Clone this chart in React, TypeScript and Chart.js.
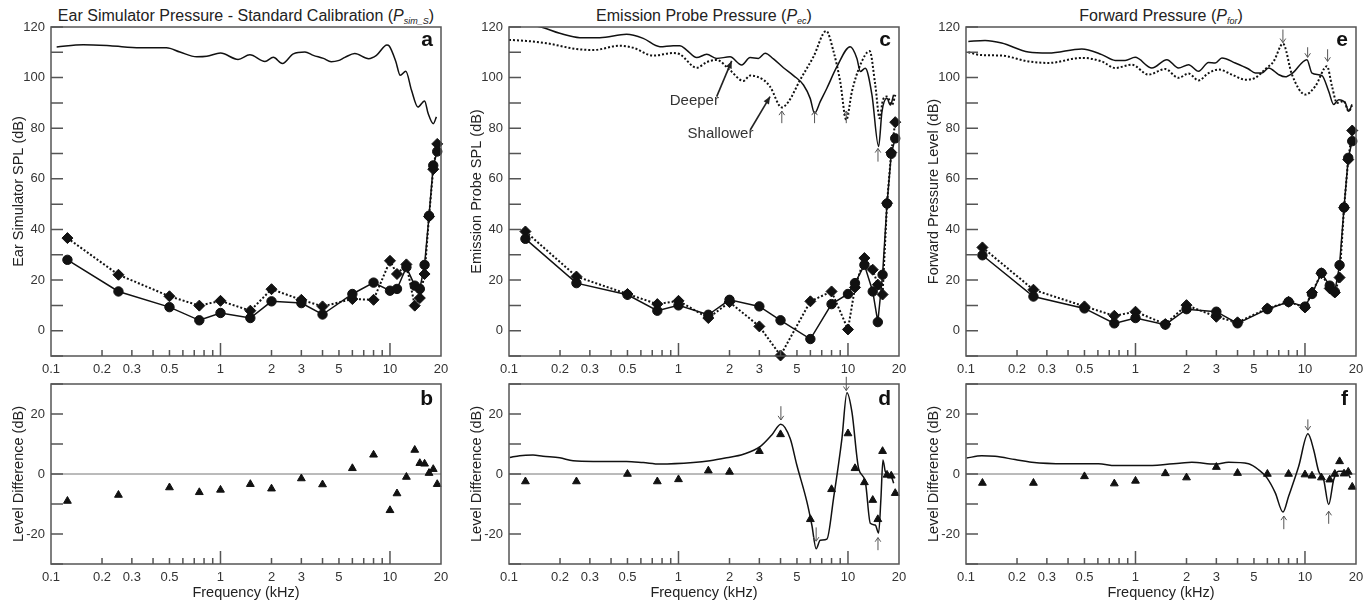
import React, { useEffect, useRef } from "react";
import { Chart, registerables } from "chart.js";

Chart.register(...registerables);

const FONT = "'Liberation Sans', Arial, Helvetica, sans-serif";
Chart.defaults.font.family = FONT;
Chart.defaults.color = "#333";

// ---------- shared axis data ----------
const X_TICK_LABELS = [0.1, 0.2, 0.3, 0.5, 1, 2, 3, 5, 10, 20];
const X_MINOR = [0.2, 0.3, 0.4, 0.5, 0.6, 0.7, 0.8, 0.9, 2, 3, 4, 5, 6, 7, 8, 9];
const X_MAJOR = [1, 10];

// test frequencies (kHz) for marker series
const FREQS = [0.125, 0.25, 0.5, 0.75, 1, 1.5, 2, 3, 4, 6, 8, 10, 11, 12.5, 14, 15, 16, 17, 18, 19];

// ---------- panel a / b ----------
const A_CIRCLE = [28.0, 15.5, 9.3, 4.1, 7.0, 5.0, 11.6, 10.9, 6.4, 14.5, 19.0, 15.8, 16.5, 25.1, 17.8, 16.5, 26.0, 45.4, 65.3, 70.8];
const A_DIAMOND = [36.6, 22.1, 13.6, 9.9, 11.8, 7.9, 16.4, 12.2, 9.6, 12.5, 12.2, 27.6, 22.4, 26.2, 9.9, 12.9, 22.4, 45.1, 63.8, 73.8];
const A_CURVE_FREQ = [0.108, 0.155, 0.223, 0.335, 0.48, 0.576, 0.724, 0.83, 1.0, 1.27, 1.49, 1.83, 2.05, 2.32, 2.69, 3.15, 3.53, 4.05, 4.5, 4.95, 5.42, 6.2, 7.48, 8.32, 9.6, 9.9, 10.8, 11.5, 12.4, 13.4, 14.6, 16.0, 16.8, 18.0, 18.8];
const A_CURVE_DB = [112.1, 113.0, 112.6, 111.8, 111.8, 110.1, 108.2, 108.4, 109.7, 107.2, 109.0, 106.4, 108.0, 105.6, 109.4, 110.1, 108.8, 107.6, 106.3, 106.7, 108.0, 109.5, 107.5, 108.8, 112.9, 112.5, 106.6, 100.9, 102.5, 95.0, 88.4, 90.8, 85.8, 81.8, 84.5];
const B_DIFF = [-9.0, -7.0, -4.5, -6.1, -5.3, -3.4, -4.9, -1.5, -3.5, 1.9, 6.4, -12.1, -6.5, -1.0, 8.0, 3.6, 3.4, 0.3, 1.6, -3.4];

// ---------- panel c / d ----------
const C_CIRCLE = [36.3, 18.8, 14.2, 7.9, 10.0, 6.3, 12.2, 9.6, 4.1, -3.3, 10.5, 14.5, 18.8, 26.0, 15.5, 3.4, 22.1, 50.2, 69.9, 76.0];
const C_DIAMOND = [39.2, 21.4, 14.5, 10.5, 11.8, 5.0, 11.3, 1.7, -9.8, 11.6, 15.5, 0.5, 17.1, 28.7, 24.1, 18.2, 14.3, 50.4, 70.4, 82.4];
const C_DEEP_FREQ = [0.1, 0.1518, 0.1993, 0.2617, 0.3435, 0.4938, 0.6194, 0.777, 0.9318, 1.02, 1.117, 1.28, 1.467, 1.68, 2.015, 2.361, 2.645, 2.962, 3.243, 3.634, 4.163, 4.771, 5.465, 5.984, 6.35, 6.858, 7.508, 8.603, 10.31, 11.29, 11.82, 12.65, 13.85, 15.16, 15.87, 16.99, 17.78, 18.6];
const C_DEEP_DB = [121.5, 120.1, 117.5, 115.8, 115.8, 117.1, 115.5, 112.2, 112.6, 112.6, 110.9, 107.9, 109.2, 107.6, 108.2, 105.0, 107.9, 107.6, 109.6, 107.4, 103.9, 100.8, 97.1, 91.8, 85.9, 90.5, 95.8, 104.3, 112.2, 107.6, 102.4, 103.7, 93.2, 72.8, 86.6, 91.8, 89.2, 93.2];
const C_SHALLOW_FREQ = [0.1, 0.1266, 0.1662, 0.25, 0.3137, 0.4509, 0.5406, 0.7099, 0.9318, 1.02, 1.28, 1.467, 1.68, 2.015, 2.415, 2.645, 3.171, 3.472, 4.07, 4.457, 5.223, 6.262, 7.439, 8.22, 9.0, 9.77, 10.55, 11.82, 13.42, 14.49, 15.38, 16.08, 16.99, 18.18, 19.03];
const C_SHALLOW_DB = [114.9, 114.5, 113.6, 111.3, 110.9, 112.6, 111.8, 108.7, 109.7, 109.2, 103.9, 106.1, 107.0, 102.9, 98.7, 100.8, 99.1, 96.4, 88.2, 90.5, 99.1, 108.3, 118.4, 110.3, 98.4, 83.3, 94.5, 105.0, 110.5, 97.1, 83.9, 91.2, 92.5, 89.2, 93.2];
const D_DIFF = [-2.5, -2.5, 0.0, -2.5, -1.8, 1.1, 0.7, 7.6, 13.2, -15.1, -5.1, 13.5, 1.9, -2.8, -8.7, -15.1, 7.6, -0.3, -0.6, -6.4];
const D_CURVE_FREQ = [0.101, 0.1156, 0.1386, 0.1588, 0.1993, 0.2389, 0.3137, 0.4938, 0.6194, 0.777, 1.223, 1.535, 1.925, 2.415, 3.03, 3.55, 4.015, 4.56, 4.99, 5.72, 6.12, 6.49, 6.86, 7.51, 8.22, 9.21, 9.86, 10.55, 11.55, 12.65, 13.54, 14.49, 15.16, 15.65, 16.08, 16.6, 17.38, 18.18, 18.6];
const D_CURVE_DB = [5.5, 6.1, 6.3, 5.9, 5.4, 4.4, 4.2, 4.2, 3.8, 3.3, 3.8, 4.4, 5.4, 6.6, 9.1, 13.0, 16.6, 11.8, 3.0, -9.2, -17.0, -24.9, -22.1, -21.7, -8.1, 11.8, 27.1, 20.7, 1.9, -2.5, -16.4, -17.0, -19.7, -8.1, 4.7, 0.8, -0.3, -1.4, -3.1];

// ---------- panel e / f ----------
const E_CIRCLE = [29.8, 13.5, 8.8, 2.9, 5.0, 2.4, 8.5, 7.5, 2.9, 8.5, 11.4, 9.5, 14.5, 22.8, 17.8, 15.4, 25.9, 48.7, 68.3, 74.9];
const E_DIAMOND = [32.9, 16.2, 9.6, 5.9, 7.5, 2.6, 10.1, 5.5, 3.3, 8.8, 11.4, 9.2, 15.1, 22.7, 16.7, 15.1, 21.0, 48.6, 67.6, 79.1];
const E_DEEP_FREQ = [0.1032, 0.1295, 0.1624, 0.2334, 0.3064, 0.4821, 0.6326, 0.7586, 0.869, 0.9954, 1.249, 1.531, 1.794, 2.056, 2.355, 2.698, 2.954, 3.235, 3.878, 4.648, 5.09, 5.573, 6.1, 6.99, 7.654, 8.38, 10.27, 11.0, 12.6, 13.8, 14.77, 15.81, 17.31, 18.11, 18.95];
const E_DEEP_DB = [114.3, 114.7, 113.7, 110.1, 109.7, 111.3, 109.1, 106.8, 106.8, 108.0, 103.8, 107.1, 103.8, 105.1, 102.5, 106.0, 105.8, 107.8, 105.8, 103.4, 101.8, 101.8, 103.8, 101.2, 100.3, 101.6, 107.1, 101.8, 100.8, 94.6, 89.4, 91.3, 90.0, 86.7, 89.4];
const E_SHALLOW_FREQ = [0.1032, 0.1237, 0.1624, 0.2334, 0.3064, 0.4821, 0.6326, 0.7586, 0.9512, 1.193, 1.497, 1.794, 2.056, 2.355, 2.698, 3.093, 3.706, 4.442, 5.09, 5.832, 6.531, 7.417, 8.38, 10.05, 11.51, 13.49, 14.43, 15.45, 16.92, 18.11, 18.95];
const E_SHALLOW_DB = [110.0, 108.9, 108.7, 106.4, 105.8, 107.8, 106.4, 103.8, 105.1, 101.2, 103.4, 99.9, 101.6, 98.9, 101.8, 103.2, 101.2, 99.2, 99.9, 103.4, 106.4, 113.4, 101.2, 93.3, 96.6, 104.5, 96.6, 90.0, 90.7, 86.7, 89.0];
const F_DIFF = [-3.0, -3.0, -0.8, -3.2, -2.3, 0.2, -1.2, 2.3, 0.3, 0.0, 0.0, -0.2, -0.6, -1.2, -1.9, 0.0, 4.2, 0.1, 0.7, -4.3];
const F_CURVE_FREQ = [0.1009, 0.1237, 0.1483, 0.1947, 0.2442, 0.3843, 0.6046, 0.7586, 1.193, 1.878, 2.151, 2.954, 3.542, 4.648, 5.326, 5.965, 6.68, 7.417, 8.008, 9.175, 10.41, 11.25, 12.04, 12.89, 13.8, 14.77, 15.81, 17.31, 18.52];
const F_CURVE_DB = [5.3, 6.1, 5.9, 4.8, 3.9, 3.4, 3.4, 2.8, 2.8, 3.7, 3.9, 3.3, 3.9, 3.4, 1.4, -1.3, -6.3, -12.7, -7.4, 2.5, 13.4, 8.1, 0.9, -1.9, -10.2, -1.9, 0.9, 0.9, -1.3];

// ---------- annotations (data coordinates) ----------
type Arrow = { x1: number; y1: number; x2: number; y2: number; bold?: boolean };
type Note = { text: string; x: number; y: number };

const C_ARROWS: Arrow[] = [
  { x1: 1.68, y1: 92.5, x2: 2.06, y2: 106.6, bold: true },
  { x1: 2.65, y1: 79.3, x2: 3.47, y2: 92.5, bold: true },
  { x1: 4.07, y1: 82.0, x2: 4.07, y2: 86.8 },
  { x1: 6.35, y1: 82.0, x2: 6.35, y2: 86.8 },
  { x1: 9.77, y1: 82.0, x2: 9.77, y2: 86.8 },
  { x1: 15.03, y1: 66.8, x2: 15.03, y2: 72.0 },
];
const C_NOTES: Note[] = [
  { text: "Deeper", x: 1.24, y: 90.8 },
  { text: "Shallower", x: 1.77, y: 77.6 },
];
const D_ARROWS: Arrow[] = [
  { x1: 4.02, y1: 22.6, x2: 4.02, y2: 18.0 },
  { x1: 9.77, y1: 32.4, x2: 9.77, y2: 27.8 },
  { x1: 6.49, y1: -17.8, x2: 6.49, y2: -22.4 },
  { x1: 15.03, y1: -25.4, x2: 15.03, y2: -21.2 },
];
const E_ARROWS: Arrow[] = [
  { x1: 7.41, y1: 119.0, x2: 7.41, y2: 113.8 },
  { x1: 10.37, y1: 112.0, x2: 10.37, y2: 108.0 },
  { x1: 13.6, y1: 111.2, x2: 13.6, y2: 106.4 },
];
const F_ARROWS: Arrow[] = [
  { x1: 10.4, y1: 18.2, x2: 10.4, y2: 14.6 },
  { x1: 7.5, y1: -18.4, x2: 7.5, y2: -14.0 },
  { x1: 13.8, y1: -16.6, x2: 13.8, y2: -12.4 },
];

// ---------- helpers ----------
const zip = (xs: number[], ys: number[]) => xs.map((x, i) => ({ x, y: ys[i] }));
const INK = "#111";

const solidCurve = (xs: number[], ys: number[]) => ({
  data: zip(xs, ys), borderColor: INK, borderWidth: 1.5, pointRadius: 0,
  cubicInterpolationMode: "monotone", fill: false,
});
const dottedCurve = (xs: number[], ys: number[]) => ({
  data: zip(xs, ys), borderColor: INK, borderWidth: 2, borderDash: [2, 2], pointRadius: 0,
  cubicInterpolationMode: "monotone", fill: false,
});
const circleSeries = (ys: number[]) => ({
  data: zip(FREQS, ys), borderColor: INK, backgroundColor: INK, borderWidth: 1.5,
  pointStyle: "circle", pointRadius: 4.7, pointBorderWidth: 1, tension: 0, clip: false,
});
const diamondSeries = (ys: number[]) => ({
  data: zip(FREQS, ys), borderColor: INK, backgroundColor: INK, borderWidth: 2, borderDash: [2, 2],
  pointStyle: "rectRot", pointRadius: 5.5, pointBorderWidth: 1, tension: 0, clip: false,
});
const triangleSeries = (ys: number[]) => ({
  data: zip(FREQS, ys), showLine: false, borderColor: INK, backgroundColor: INK,
  pointStyle: "triangle", pointRadius: 4.5, pointBorderWidth: 1, clip: false,
});

type PanelCfg = {
  key: string;
  l: number; t: number; r: number; b: number;
  canvasTop: number; canvasBottom: number;
  yMin: number; yMax: number; yLabelMax: number;
  yTitle: string; xTitle: boolean;
  letter: string; letterDy: number; zeroLine: boolean;
  datasets: any[]; arrows: Arrow[]; notes: Note[];
};

const TOP = { t: 27, b: 356, canvasTop: 18, canvasBottom: 382, yMin: -10, yMax: 120, yLabelMax: 120, xTitle: false, letterDy: 19, zeroLine: false };
const BOT = { t: 384, b: 564, canvasTop: 376, canvasBottom: 605, yMin: -30, yMax: 30, yLabelMax: 20, xTitle: true, letterDy: 21, zeroLine: true, yTitle: "Level Difference (dB)" };

const PANELS: PanelCfg[] = [
  { key: "a", l: 51, r: 441, ...TOP, yTitle: "Ear Simulator SPL (dB)", letter: "a",
    datasets: [solidCurve(A_CURVE_FREQ, A_CURVE_DB), circleSeries(A_CIRCLE), diamondSeries(A_DIAMOND)], arrows: [], notes: [] },
  { key: "b", l: 51, r: 441, ...BOT, letter: "b", datasets: [triangleSeries(B_DIFF)], arrows: [], notes: [] },
  { key: "c", l: 509, r: 899, ...TOP, yTitle: "Emission Probe SPL (dB)", letter: "c",
    datasets: [solidCurve(C_DEEP_FREQ, C_DEEP_DB), dottedCurve(C_SHALLOW_FREQ, C_SHALLOW_DB), circleSeries(C_CIRCLE), diamondSeries(C_DIAMOND)],
    arrows: C_ARROWS, notes: C_NOTES },
  { key: "d", l: 509, r: 899, ...BOT, letter: "d",
    datasets: [solidCurve(D_CURVE_FREQ, D_CURVE_DB), triangleSeries(D_DIFF)], arrows: D_ARROWS, notes: [] },
  { key: "e", l: 966, r: 1356, ...TOP, yTitle: "Forward Pressure Level (dB)", letter: "e",
    datasets: [solidCurve(E_DEEP_FREQ, E_DEEP_DB), dottedCurve(E_SHALLOW_FREQ, E_SHALLOW_DB), circleSeries(E_CIRCLE), diamondSeries(E_DIAMOND)],
    arrows: E_ARROWS, notes: [] },
  { key: "f", l: 966, r: 1356, ...BOT, letter: "f",
    datasets: [solidCurve(F_CURVE_FREQ, F_CURVE_DB), triangleSeries(F_DIFF)], arrows: F_ARROWS, notes: [] },
];

const Y_AXIS_W = 51;
const RIGHT_PAD = 12;

function drawArrow(ctx: CanvasRenderingContext2D, x1: number, y1: number, x2: number, y2: number, bold?: boolean) {
  const ang = Math.atan2(y2 - y1, x2 - x1);
  ctx.save();
  ctx.strokeStyle = bold ? "#222" : "#555";
  ctx.fillStyle = bold ? "#222" : "#555";
  ctx.lineWidth = bold ? 1.6 : 1;
  ctx.beginPath();
  ctx.moveTo(x1, y1);
  ctx.lineTo(x2, y2);
  ctx.stroke();
  const h = bold ? 8 : 5;
  const w = bold ? 0.4 : 0.6;
  ctx.beginPath();
  ctx.moveTo(x2 - h * Math.cos(ang - w), y2 - h * Math.sin(ang - w));
  ctx.lineTo(x2, y2);
  ctx.lineTo(x2 - h * Math.cos(ang + w), y2 - h * Math.sin(ang + w));
  if (bold) { ctx.closePath(); ctx.fill(); } else { ctx.stroke(); }
  ctx.restore();
}

function makeDeco(cfg: PanelCfg) {
  return {
    id: "deco_" + cfg.key,
    beforeDatasetsDraw(chart: any) {
      if (!cfg.zeroLine) return;
      const { ctx, chartArea: a, scales } = chart;
      const y = scales.y.getPixelForValue(0);
      ctx.save();
      ctx.strokeStyle = "#777";
      ctx.lineWidth = 1;
      ctx.beginPath();
      ctx.moveTo(a.left, y);
      ctx.lineTo(a.right, y);
      ctx.stroke();
      ctx.restore();
    },
    afterDatasetsDraw(chart: any) {
      const { ctx, chartArea: a, scales } = chart;
      const xs = scales.x;
      const ys = scales.y;
      ctx.save();
      ctx.strokeStyle = "#555";
      ctx.lineWidth = 1.5;
      ctx.strokeRect(a.left, a.top, a.right - a.left, a.bottom - a.top);
      ctx.beginPath();
      ys.ticks.forEach((t: any) => {
        const y = ys.getPixelForValue(t.value);
        ctx.moveTo(a.left, y);
        ctx.lineTo(a.left + 12, y);
      });
      X_MINOR.forEach((v) => {
        const x = xs.getPixelForValue(v);
        ctx.moveTo(x, a.bottom);
        ctx.lineTo(x, a.bottom - 6);
      });
      X_MAJOR.forEach((v) => {
        const x = xs.getPixelForValue(v);
        ctx.moveTo(x, a.bottom);
        ctx.lineTo(x, a.bottom - 13);
      });
      ctx.stroke();

      ctx.fillStyle = INK;
      ctx.font = `bold 21px ${FONT}`;
      ctx.textAlign = "right";
      ctx.textBaseline = "alphabetic";
      ctx.fillText(cfg.letter, a.right - 8, a.top + cfg.letterDy);

      cfg.arrows.forEach((ar) =>
        drawArrow(ctx, xs.getPixelForValue(ar.x1), ys.getPixelForValue(ar.y1), xs.getPixelForValue(ar.x2), ys.getPixelForValue(ar.y2), ar.bold)
      );

      ctx.font = `15px ${FONT}`;
      ctx.fillStyle = "#333";
      ctx.textAlign = "center";
      ctx.textBaseline = "middle";
      cfg.notes.forEach((n) => ctx.fillText(n.text, xs.getPixelForValue(n.x), ys.getPixelForValue(n.y)));
      ctx.restore();
    },
  };
}

function Panel({ cfg }: { cfg: PanelCfg }) {
  const ref = useRef<HTMLCanvasElement>(null);
  const left = cfg.l - Y_AXIS_W;
  const width = cfg.r - cfg.l + Y_AXIS_W + RIGHT_PAD;
  const height = cfg.canvasBottom - cfg.canvasTop;
  const xAxisH = cfg.canvasBottom - cfg.b;

  useEffect(() => {
    const chart = new Chart(ref.current as HTMLCanvasElement, {
      type: "line",
      data: { datasets: cfg.datasets as any },
      options: {
        responsive: false,
        animation: false,
        events: [],
        layout: { padding: { top: cfg.t - cfg.canvasTop, right: RIGHT_PAD, left: 0, bottom: 0 } },
        plugins: { legend: { display: false }, tooltip: { enabled: false } },
        scales: {
          x: {
            type: "logarithmic",
            min: 0.1,
            max: 20,
            position: "bottom",
            grid: { display: false, drawTicks: false },
            border: { display: false },
            ticks: {
              autoSkip: false, maxRotation: 0, minRotation: 0, padding: 6,
              font: { size: 13 }, color: "#333",
              callback: (v: any) => String(Number(v)),
            },
            afterBuildTicks: (s: any) => {
              s.ticks = X_TICK_LABELS.map((v) => ({ value: v }));
            },
            afterFit: (s: any) => {
              s.height = xAxisH;
              s.paddingLeft = 0;
              s.paddingRight = 0;
            },
            title: {
              display: cfg.xTitle, text: "Frequency (kHz)", color: "#222",
              font: { size: 14.5 }, padding: { top: 0, bottom: 3.4 },
            },
          } as any,
          y: {
            type: "linear",
            min: cfg.yMin,
            max: cfg.yMax,
            grid: { display: false, drawTicks: false },
            border: { display: false },
            ticks: {
              stepSize: 10, padding: 6, font: { size: 13 }, color: "#333",
              callback: (v: any) => (Number(v) % 20 === 0 && Math.abs(Number(v)) <= cfg.yLabelMax && Number(v) >= (cfg.yMin < -20 ? -20 : 0) ? String(v) : ""),
            },
            afterFit: (s: any) => {
              s.width = Y_AXIS_W;
              s.paddingTop = 0;
              s.paddingBottom = 0;
            },
            title: {
              display: true, text: cfg.yTitle, color: "#222",
              font: { size: 14.5 }, padding: { top: 10.3, bottom: 0 },
            },
          } as any,
        },
      },
      plugins: [makeDeco(cfg)],
    });
    return () => chart.destroy();
  }, []);

  return (
    <canvas
      ref={ref}
      width={width}
      height={height}
      style={{ position: "absolute", left, top: cfg.canvasTop, width, height }}
    />
  );
}

type TitleCfg = { center: number; main: string; sub: string };
const TITLES: TitleCfg[] = [
  { center: 246, main: "Ear Simulator Pressure - Standard Calibration (", sub: "sim_S" },
  { center: 704, main: "Emission Probe Pressure (", sub: "ec" },
  { center: 1161, main: "Forward Pressure (", sub: "for" },
];

function Title({ cfg }: { cfg: TitleCfg }) {
  return (
    <div
      style={{
        position: "absolute", left: cfg.center - 260, width: 520, top: 6, textAlign: "center",
        fontFamily: FONT, fontSize: 16, lineHeight: "19px", color: "#222", whiteSpace: "nowrap",
      }}
    >
      {cfg.main}
      <i>P</i>
      <sub style={{ fontSize: 9, fontStyle: "italic", verticalAlign: "-3px", lineHeight: 0 }}>{cfg.sub}</sub>)
    </div>
  );
}

export default function App() {
  return (
    <div style={{ position: "absolute", left: 0, top: 0, width: 1371, height: 605, background: "#fff", overflow: "hidden" }}>
      {TITLES.map((t) => (
        <Title key={t.sub} cfg={t} />
      ))}
      {PANELS.map((p) => (
        <Panel key={p.key} cfg={p} />
      ))}
    </div>
  );
}
